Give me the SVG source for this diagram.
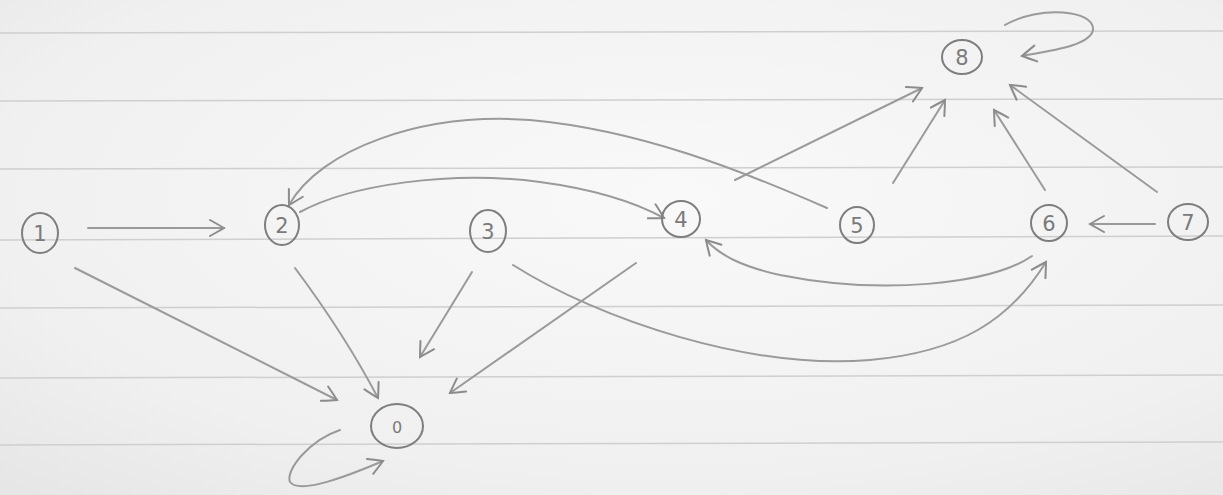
<svg xmlns="http://www.w3.org/2000/svg" width="1223" height="495" viewBox="0 0 1223 495">
<defs>
<radialGradient id="paper" cx="0.55" cy="0.4" r="0.8">
<stop offset="0" stop-color="#f9f9f9"/>
<stop offset="0.7" stop-color="#f0f0f0"/>
<stop offset="1" stop-color="#e6e6e6"/>
</radialGradient>
<marker id="ah" viewBox="0 0 20 20" refX="17" refY="10" markerWidth="20" markerHeight="20" markerUnits="userSpaceOnUse" orient="auto">
<path d="M3,2 Q12,7 17,10 Q12,13 3,18" fill="none" stroke="#8c8c8c" stroke-width="2" stroke-linecap="round"/>
</marker>
</defs>
<style>
.rule{stroke:#cfcfcf;stroke-width:1.5}
.node{fill:none;stroke:#7e7e7e;stroke-width:2}
.lbl{font-family:"DejaVu Sans",sans-serif;font-size:21px;fill:#7a7a7a;text-anchor:middle;dominant-baseline:central}
.e{fill:none;stroke:#9a9a9a;stroke-width:2;stroke-linecap:round;marker-end:url(#ah)}
</style>
<rect width="1223" height="495" fill="url(#paper)"/>
<g id="rules">
<line class="rule" x1="0" y1="33" x2="1223" y2="31"/>
<line class="rule" x1="0" y1="101" x2="1223" y2="99"/>
<line class="rule" x1="0" y1="169" x2="1223" y2="167"/>
<line class="rule" x1="0" y1="240" x2="1223" y2="236"/>
<line class="rule" x1="0" y1="308" x2="1223" y2="305"/>
<line class="rule" x1="0" y1="378" x2="1223" y2="375"/>
<line class="rule" x1="0" y1="445" x2="1223" y2="442"/>
</g>
<g id="connectors">
<path class="e" d="M88,228 L224,228"/>
<path class="e" d="M75,268 L337,400"/>
<path class="e" d="M295,268 Q345,335 378,398"/>
<path class="e" d="M472,272 L420,357"/>
<path class="e" d="M636,263 L450,393"/>
<path class="e" d="M513,265 C600,320 750,370 870,360 C960,352 1010,320 1046,262"/>
<path class="e" d="M1032,256 C990,285 880,295 780,275 C740,266 720,255 706,240"/>
<path class="e" d="M300,212 C350,185 450,170 540,182 C600,190 640,205 664,218"/>
<path class="e" d="M827,208 C740,170 640,130 530,120 C420,112 320,150 289,205"/>
<path class="e" d="M735,180 L922,88"/>
<path class="e" d="M893,183 L945,100"/>
<path class="e" d="M1045,190 L994,110"/>
<path class="e" d="M1157,192 L1010,85"/>
<path class="e" d="M1155,224 L1090,224"/>
<path class="e" d="M1005,25 C1040,5 1095,10 1093,30 C1090,45 1055,50 1022,56"/>
<path class="e" d="M340,430 C310,440 285,470 290,482 C300,495 350,475 383,461"/>
</g>
<g id="n1"><ellipse class="node" cx="40" cy="233" rx="18" ry="20"/><text class="lbl" x="40" y="234">1</text></g>
<g id="n2"><ellipse class="node" cx="282" cy="225" rx="17" ry="20"/><text class="lbl" x="282" y="226">2</text></g>
<g id="n3"><ellipse class="node" cx="488" cy="231" rx="18" ry="21"/><text class="lbl" x="488" y="232">3</text></g>
<g id="n4"><ellipse class="node" cx="681" cy="219" rx="19" ry="18"/><text class="lbl" x="681" y="220">4</text></g>
<g id="n5"><ellipse class="node" cx="857" cy="225" rx="17" ry="18"/><text class="lbl" x="857" y="226">5</text></g>
<g id="n6"><ellipse class="node" cx="1049" cy="223" rx="18" ry="18"/><text class="lbl" x="1049" y="224">6</text></g>
<g id="n7"><ellipse class="node" cx="1188" cy="222" rx="20" ry="18"/><text class="lbl" x="1188" y="223">7</text></g>
<g id="n8"><ellipse class="node" cx="962" cy="57" rx="20" ry="17"/><text class="lbl" x="962" y="58">8</text></g>
<g id="n0"><ellipse class="node" cx="397" cy="426" rx="26" ry="22"/><text class="lbl" x="397" y="427" style="font-size:16px">0</text></g>
</svg>
